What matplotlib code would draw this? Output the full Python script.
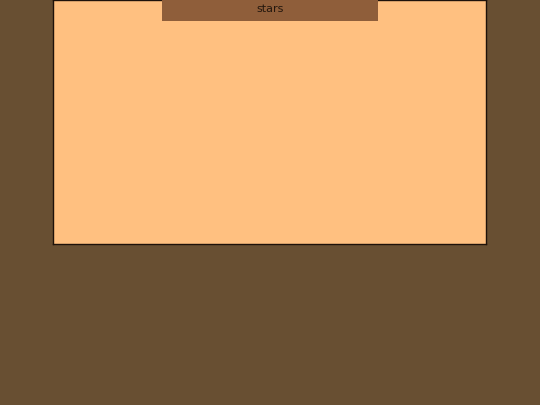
import matplotlib
matplotlib.use('Agg')
from matplotlib import pyplot as plt
from matplotlib.patches import Rectangle

# the chart holds no visible series, only the title
title = 'stars'
categories = []
values = []

W, H = 540, 405
fig = plt.figure(figsize=(W / 100, H / 100), dpi=100)
fig.patch.set_facecolor('#684f32')

ax = fig.add_axes([53 / W, 1 - 244 / H, (486 - 53) / W, 244 / H])
ax.set_facecolor('#ffc080')
ax.bar(categories, values)
ax.set_xticks([])
ax.set_yticks([])
for sp in ax.spines.values():
    sp.set_color('#1e120a')
    sp.set_linewidth(1.0)

# title strip at the top of the plot area
box = Rectangle((162 / W, 1 - 20.5 / H), 216 / W, 20.5 / H,
                transform=fig.transFigure, facecolor='#8f5e3a',
                edgecolor='none', zorder=5)
fig.add_artist(box)
fig.text(270 / W, 1 - 8.5 / H, title, ha='center', va='center',
         fontsize=8, color='#24170d', zorder=6)

fig.savefig('out.png', dpi=100, facecolor=fig.get_facecolor())
